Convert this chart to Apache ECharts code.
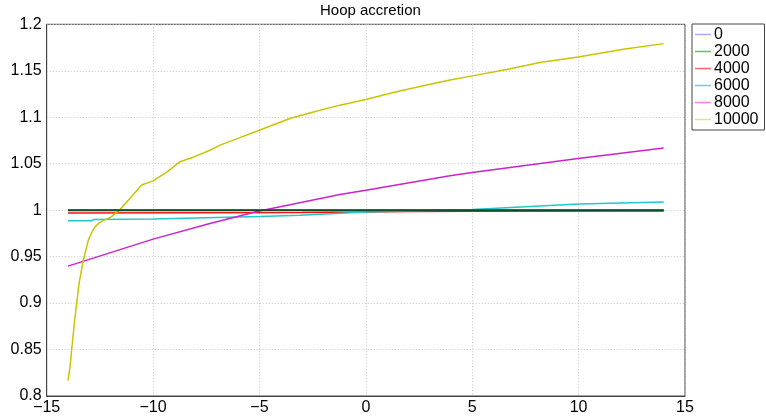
<!DOCTYPE html>
<html><head><meta charset="utf-8">
<script src="https://cdn.jsdelivr.net/npm/echarts@6/dist/echarts.min.js"></script>
<style>html,body{margin:0;padding:0;background:#fff}#c{width:766px;height:419px}</style>
</head><body><div id="c"></div>
<script>
const seriesNames = ['0', '2000', '4000', '6000', '8000', '10000'];
const lineColors = ['#3030ff', '#0b4f2a', '#ff1010', '#20c8c8', '#cc22cc', '#c8c400'];
const legendColors = ['#aaaaff', '#66c066', '#ff6666', '#55dddd', '#ee88ee', '#e0e090'];

const x0 = [-14, 14];
const y0 = [1.0, 1.0];
const x2000 = [-14, 14];
const y2000 = [1.0, 1.0];
const x4000 = [-14, -3, 0, 2, 5, 12, 14];
const y4000 = [0.9968, 0.9975, 0.998, 0.9985, 0.9988, 0.999, 0.9992];
const x6000 = [-14, -12.9, -12.8, -10, -5, -3.1, 0, 5, 10, 14];
const y6000 = [0.9885, 0.9885, 0.9900, 0.9905, 0.9932, 0.9946, 0.998, 1.0007, 1.0065, 1.0089];
const x8000 = [-14, -10, -7.33, -5.06, -1.22, 0, 3.95, 5, 9.98, 14];
const y8000 = [0.9398, 0.9688, 0.9857, 0.9989, 1.0169, 1.0215, 1.0369, 1.0405, 1.0556, 1.067];
const x10000 = [-14.0, -13.9, -13.83, -13.67, -13.48, -13.28, -13.04, -12.88, -12.73, -12.55, -12.34, -12.15, -11.95, -11.59, -11.09, -10.54, -10.0, -9.36, -8.74, -8.11, -7.33, -6.85, -5.92, -5.01, -3.57, -2.47, -1.22, 0.0, 1.29, 2.54, 3.95, 5.0, 6.62, 8.18, 9.98, 12.1, 14.0];
const y10000 = [0.8165, 0.832, 0.849, 0.885, 0.921, 0.946, 0.968, 0.976, 0.982, 0.986, 0.989, 0.9905, 0.993, 1.000, 1.0126, 1.027, 1.0315, 1.041, 1.052, 1.057, 1.0645, 1.070, 1.078, 1.086, 1.0986, 1.1057, 1.113, 1.119, 1.1265, 1.133, 1.140, 1.1445, 1.1513, 1.1588, 1.1649, 1.1731, 1.1792];

const xs = [x0, x2000, x4000, x6000, x8000, x10000];
const ys = [y0, y2000, y4000, y6000, y8000, y10000];
const widths = [1.5, 2, 1.5, 1.5, 1.5, 1.5];

const FONT = 'Liberation Sans, Arial, sans-serif';
const chart = echarts.init(document.getElementById('c'), null, {renderer: 'canvas'});
const series = seriesNames.map((n, i) => ({
  name: n, type: 'line', symbol: 'none', animation: false,
  data: xs[i].map((x, j) => [x, ys[i][j]]),
  lineStyle: {color: lineColors[i], width: widths[i]},
  itemStyle: {color: lineColors[i]},
  z: i === 1 ? 3 : 2
}));
chart.setOption({
  animation: false,
  backgroundColor: '#ffffff',
  title: {text: 'Hoop accretion', left: 320, top: 3, padding: 0,
    textStyle: {fontFamily: FONT, fontSize: 15, fontWeight: 'normal', color: '#000'}},
  legend: {
    orient: 'vertical', left: 692, top: 24, padding: [2, 6, 2, 3],
    borderColor: '#444', borderWidth: 1, itemGap: 0, itemWidth: 16, itemHeight: 14,
    textStyle: {fontFamily: FONT, fontSize: 16, color: '#000', lineHeight: 17, padding: [0, 0, 0, -2]},
    data: seriesNames.map((n, i) => ({name: n, icon: 'path://M0,0h16v1.5h-16z',
      itemStyle: {color: legendColors[i]}})),
    itemStyle: {borderWidth: 0}
  },
  grid: {left: 46.7, right: 81, top: 24.3, bottom: 23, show: true, borderColor: '#444', borderWidth: 1},
  xAxis: {
    type: 'value', min: -15, max: 15, interval: 5,
    axisLine: {show: true, onZero: false, lineStyle: {color: '#444'}},
    axisTick: {show: false},
    splitLine: {show: true, lineStyle: {color: '#c8c8c8', type: [1, 2]}},
    axisLabel: {fontFamily: FONT, fontSize: 16, color: '#000', margin: 4,
      formatter: v => String(v).replace('-', '\u2212')}
  },
  yAxis: {
    type: 'value', min: 0.8, max: 1.2, interval: 0.05,
    axisLine: {show: true, onZero: false, lineStyle: {color: '#444'}},
    axisTick: {show: false},
    splitLine: {show: true, lineStyle: {color: '#c8c8c8', type: [1, 2]}},
    axisLabel: {fontFamily: FONT, fontSize: 16, color: '#000', margin: 5,
      formatter: v => String(Math.round(v * 100) / 100)}
  },
  series: series
});
</script></body></html>
